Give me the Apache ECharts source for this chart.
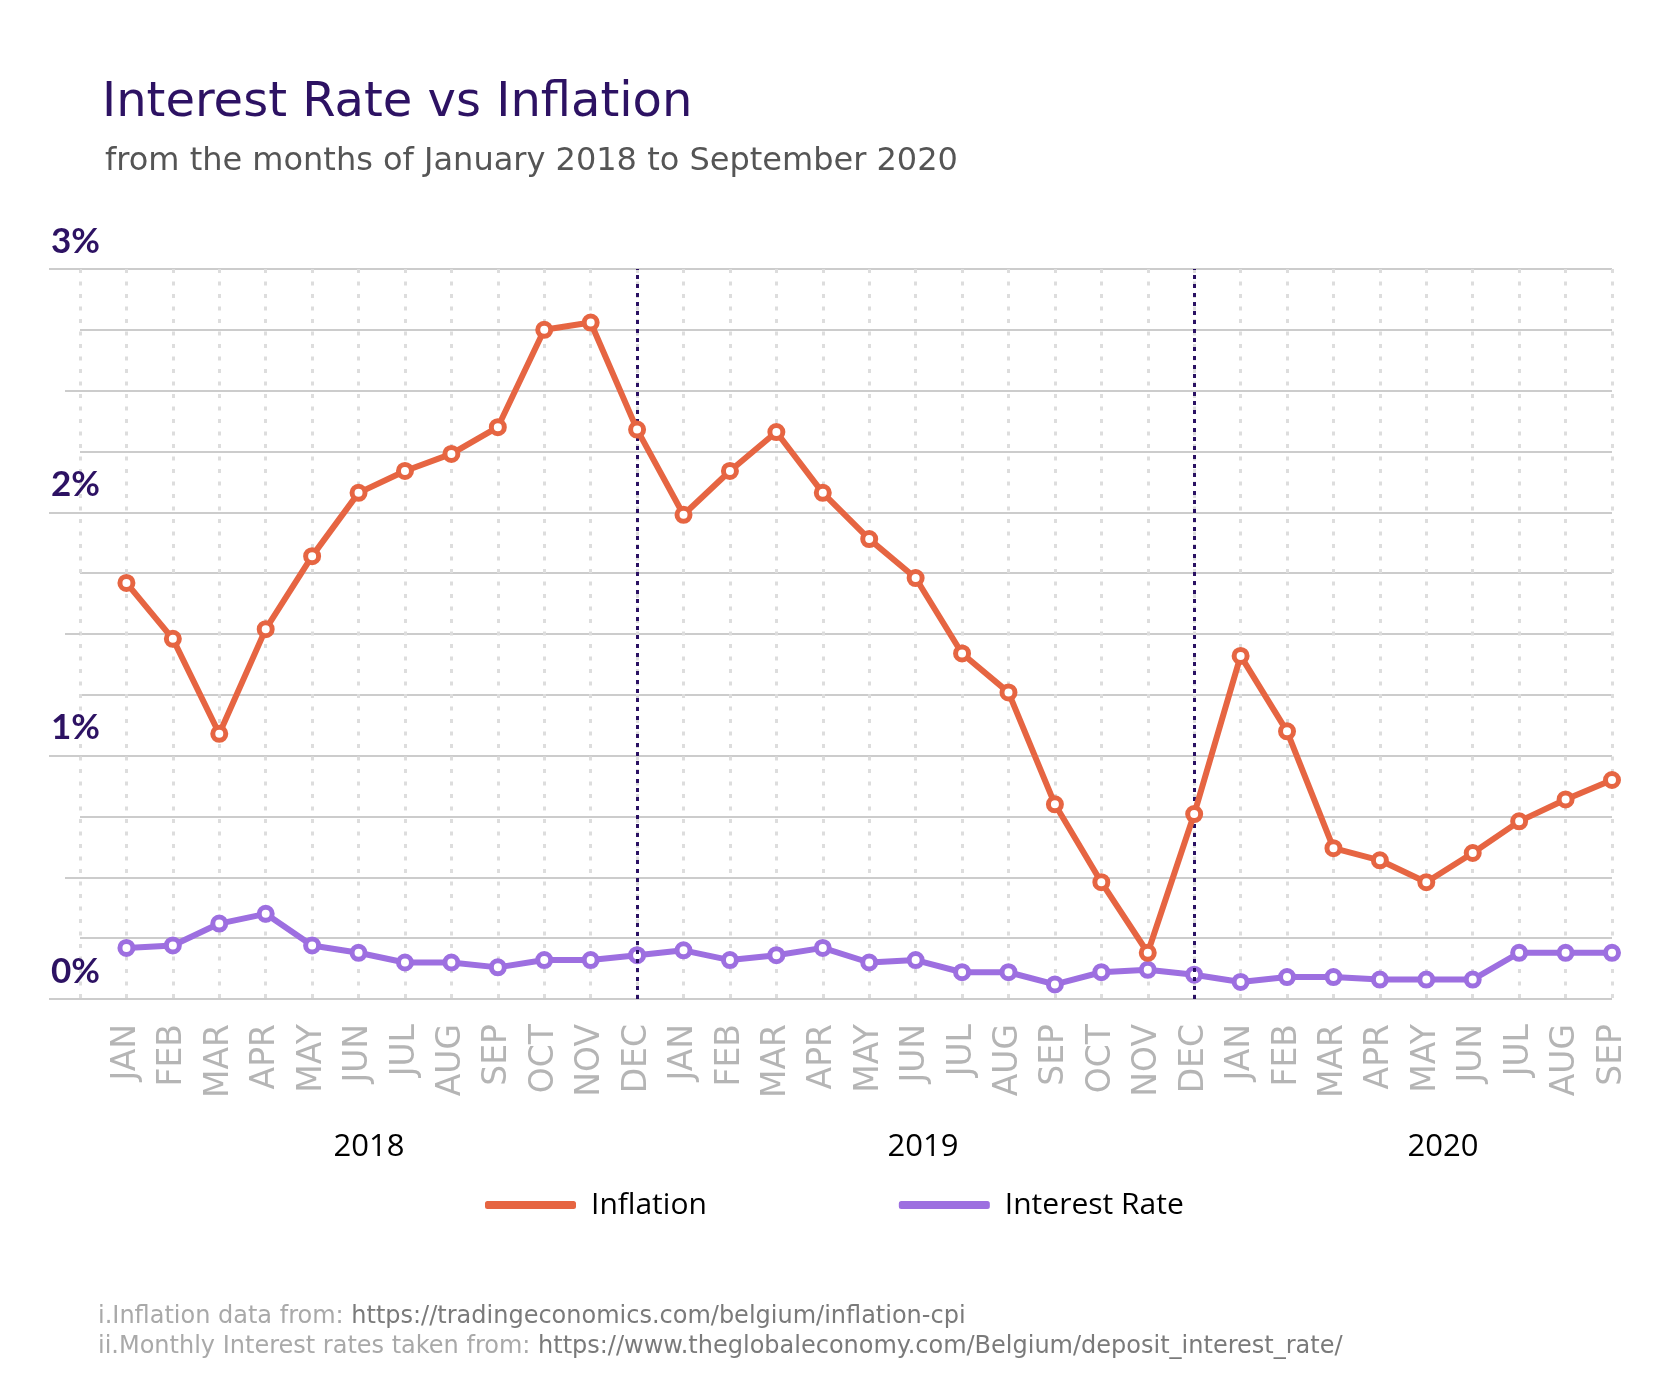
<!DOCTYPE html>
<html>
<head>
<meta charset="utf-8">
<script src="https://cdn.jsdelivr.net/npm/echarts@6/dist/echarts.min.js"></script>
<style>
html,body{margin:0;padding:0;background:#fff;}
#chart{width:1667px;height:1394px;}
</style>
</head>
<body>
<div id="chart"></div>
<script>
// ---- data ----
const categories = ['',
  'JAN','FEB','MAR','APR','MAY','JUN','JUL','AUG','SEP','OCT','NOV','DEC',
  'JAN','FEB','MAR','APR','MAY','JUN','JUL','AUG','SEP','OCT','NOV','DEC',
  'JAN','FEB','MAR','APR','MAY','JUN','JUL','AUG','SEP'];
const inflation = [1.71,1.48,1.09,1.52,1.82,2.08,2.17,2.24,2.35,2.75,2.78,2.34,
  1.99,2.17,2.33,2.08,1.89,1.73,1.42,1.26,0.80,0.48,0.19,0.76,
  1.41,1.10,0.62,0.57,0.48,0.60,0.73,0.82,0.90];
const interestRate = [0.21,0.22,0.31,0.35,0.22,0.19,0.15,0.15,0.13,0.16,0.16,0.18,
  0.20,0.16,0.18,0.21,0.15,0.16,0.11,0.11,0.06,0.11,0.12,0.10,
  0.07,0.09,0.09,0.08,0.08,0.08,0.19,0.19,0.19];
const yearLabels = ['2018','2019','2020'];
const yearSeparators = [12, 24]; // category index of DEC 2018, DEC 2019
const yTickLabels = ['0%','1%','2%','3%'];

const FONT = 'DejaVu Sans';
const chart = echarts.init(document.getElementById('chart'));

function yAxisBase(interval) {
  return {
    type: 'value', min: 0, max: 3, interval: interval, position: 'left',
    axisLine: {show: false}, axisLabel: {show: false}, axisTick: {show: false},
    splitLine: {show: false}
  };
}
const y0 = yAxisBase(0.25);
y0.splitLine = {show: true, lineStyle: {color: '#cccccc', width: 2}};
const y1 = yAxisBase(0.5);
y1.axisTick = {show: true, length: 15, lineStyle: {color: '#cccccc', width: 2}};
const y2 = yAxisBase(1);
y2.axisTick = {show: true, length: 31, lineStyle: {color: '#cccccc', width: 2}};
y2.axisLabel = {
  show: true, align: 'left', verticalAlign: 'bottom', margin: 29,
  padding: [0, 0, 10, 0],
  fontFamily: 'Lato', fontWeight: 'bold', fontSize: 35, color: '#2d1263',
  formatter: function (v) { return yTickLabels[Math.round(v)]; }
};

const footLines = [
  ['i.Inflation data from: ', 'https://tradingeconomics.com/belgium/inflation-cpi'],
  ['ii.Monthly Interest rates taken from: ', 'https://www.theglobaleconomy.com/Belgium/deposit_interest_rate/']
];

const option = {
  backgroundColor: '#ffffff',
  animation: false,
  textStyle: {fontFamily: FONT},
  title: [
    {text: 'Interest Rate vs Inflation', left: 97, top: 75,
     textStyle: {fontFamily: FONT, fontSize: 48, fontWeight: 'normal', color: '#2d1263'}},
    {text: 'from the months of January 2018 to September 2020', left: 100, top: 141,
     textStyle: {fontFamily: FONT, fontSize: 32, fontWeight: 'normal', color: '#555555'}}
  ],
  grid: {left: 80, right: 55, top: 269, bottom: 395, containLabel: false},
  legend: {
    left: 480, top: 1185, itemWidth: 89, itemHeight: 6, itemGap: 192,
    data: [
      {name: 'Inflation', icon: 'roundRect'},
      {name: 'Interest Rate', icon: 'roundRect'}
    ],
    textStyle: {fontFamily: 'Open Sans', fontSize: 30, color: '#000', padding: [0, 0, 0, 11]}
  },
  xAxis: {
    type: 'category', data: categories, boundaryGap: false,
    axisLine: {show: false}, axisTick: {show: false},
    axisLabel: {interval: 0, rotate: 90, margin: 25, fontFamily: 'DejaVu Sans',
      fontSize: 33, color: '#b5b5b5'},
    splitLine: {show: true, interval: 0,
      lineStyle: {color: '#dddddd', width: 3, type: [4, 8.5]}}
  },
  yAxis: [y0, y1, y2],
  series: [
    {
      name: 'Inflation', type: 'line', data: [null].concat(inflation),
      symbol: 'circle', symbolSize: 13, showAllSymbol: true,
      lineStyle: {color: '#e66542', width: 6},
      itemStyle: {color: '#ffffff', borderColor: '#e66542', borderWidth: 5},
      z: 5,
      markLine: {
        silent: true, symbol: 'none', label: {show: false},
        lineStyle: {color: '#2a1163', width: 3, type: [4, 5]},
        data: yearSeparators.map(function (i) { return {xAxis: i}; })
      }
    },
    {
      name: 'Interest Rate', type: 'line', data: [null].concat(interestRate),
      symbol: 'circle', symbolSize: 13, showAllSymbol: true,
      lineStyle: {color: '#9d6fe0', width: 6},
      itemStyle: {color: '#ffffff', borderColor: '#9d6fe0', borderWidth: 5},
      z: 4
    }
  ],
  graphic: []
};
option.legend.data[0].itemStyle = {color: '#e66542'};
option.legend.data[1].itemStyle = {color: '#9d6fe0'};

const yearX = [369, 923, 1443];
yearLabels.forEach(function (t, i) {
  option.graphic.push({type: 'text', x: yearX[i], y: 1147,
    style: {text: t, fontFamily: 'Open Sans', fontSize: 31, fill: '#000',
      align: 'center', verticalAlign: 'middle'}});
});
footLines.forEach(function (l, i) {
  option.graphic.push({type: 'text', left: 98, top: 1305 + i * 30,
    style: {text: '{a|' + l[0] + '}{b|' + l[1] + '}',
      rich: {a: {fontFamily: FONT, fontSize: 24, fill: '#a9a9a9', color: '#a9a9a9'},
             b: {fontFamily: FONT, fontSize: 24, fill: '#7a7a7a', color: '#7a7a7a'}}}});
});

chart.setOption(option);
</script>
</body>
</html>
